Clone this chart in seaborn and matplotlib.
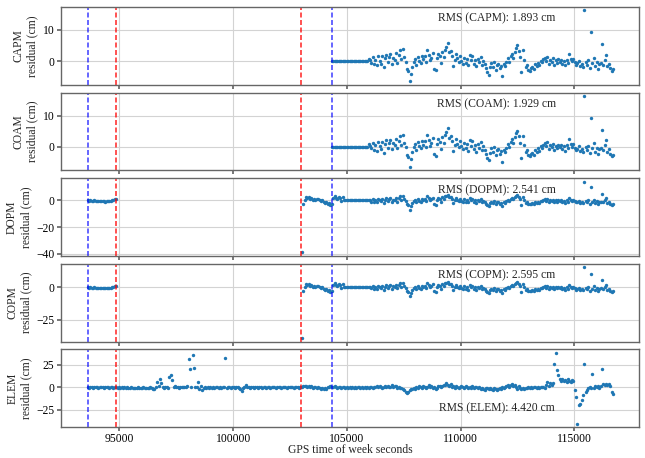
import numpy as np
import pandas as pd
import matplotlib
matplotlib.use('Agg')
import matplotlib.pyplot as plt
import seaborn as sns

# sampling interval of the residual series (s)
step = 60

# event markers (GPS seconds of week)
blue_lines = [93610, 104330]
red_lines = [94870, 103000]

stations = ['CAPM', 'COAM', 'DOPM', 'COPM', 'ELEM']
rms_values = [1.893, 1.929, 2.541, 2.595, 4.420]

# CAPM / COAM: one segment starting after the second blue line
capm_start = 104340
capm_res = [
    0.0, 0.0, 0.0, 0.0, 0.0, 0.0, 0.0, 0.0, 0.0, 0.0, 0.0, 0.0, 0.0, 0.0,
    0.0, 0.0, 0.0, 0.0, 0.0, 0.0, 0.0, 0.0, 0.0, 0.0, 0.0, 0.0, 0.0,
    0.8, 0.3, -0.6, 1.2, -1.0, 0.5, -1.3, 1.5, 0.2, -0.8,
    1.6, -1.9, 0.9, 2.0, -0.4, 1.3, 2.2, -0.9, 1.0, 0.4,
    2.5, -0.5, 1.9, 3.4, 0.6, 3.8, 1.2, -0.2, -2.6, -3.2,
    -6.4, -4.1, -1.8, -0.3, 0.8, -1.2, 1.4, 0.2, -0.6, 1.8,
    0.6, 1.7, -0.2, 3.6, 2.1, 0.3, 1.1, 2.6, -2.4, -2.9,
    0.9, 2.3, 1.5, -0.7, 2.9, 1.2, 3.7, 4.5, 5.9, 2.8,
    3.2, 1.8, -1.5, 0.4, 2.2, 0.9, -0.3, 1.6, 0.2, -0.8,
    1.1, -0.6, 0.7, -1.2, 1.9, 0.3, 1.7, -0.9, 0.5, -1.6,
    0.8, -0.4, 1.3, -1.1, 0.2, -0.9, -2.2, -3.6, -4.3, -1.9,
    -0.6, -1.8, -0.2, -2.7, -1.2, -0.8, -2.3, -1.5, -4.8, -1.0,
    -1.6, -0.4, 0.9, -0.2, 1.5, 2.4, 1.1, 3.0, 4.2, 5.0,
    3.3, 1.2, -3.5, 3.4, 0.4, -1.8, -1.1, -2.7, -3.1, -2.2,
    -1.9, -2.6, -1.0, -1.7, -0.6, -1.3, 0.1, -0.4, 0.6, 1.1,
    0.2, 1.4, -0.8, 0.5, -0.3, 0.9, -1.1, 0.3, -0.5, 0.6,
    -0.2, 0.5, -0.9, 0.1, -1.3, 0.4, -0.6, 2.4, 0.7, -0.1,
    0.8, -0.4, -1.2, -0.7, 0.2, -1.5, -0.9, -1.8, 16.2, -0.3,
    -1.1, 0.3, -2.1, 9.2, -0.6, 1.0, -1.7, -0.4, -2.4, -0.8,
    -0.5, 5.4, -1.2, 0.4, 2.1, -1.6, -0.9, -2.2, -3.0, -2.6,
]
coam_res = [
    0.0, 0.0, 0.0, 0.0, 0.0, 0.0, 0.0, 0.0, 0.0, 0.0, 0.0, 0.0, 0.0, 0.0,
    0.0, 0.0, 0.0, 0.0, 0.0, 0.0, 0.0, 0.0, 0.0, 0.0, 0.0, 0.0, 0.0,
    0.9, 0.3, -0.5, 1.2, -1.1, 0.5, -1.3, 1.6, 0.2, -0.8,
    1.6, -2.0, 0.9, 2.1, -0.4, 1.3, 2.2, -0.9, 1.1, 0.4,
    2.6, -0.5, 1.9, 3.5, 0.6, 3.9, 1.2, -0.2, -2.7, -3.3,
    -6.6, -4.2, -1.8, -0.3, 0.8, -1.2, 1.5, 0.2, -0.6, 1.8,
    0.6, 1.8, -0.2, 3.7, 2.1, 0.3, 1.1, 2.7, -2.5, -3.0,
    0.9, 2.4, 1.5, -0.7, 3.0, 1.2, 3.8, 4.6, 6.0, 2.9,
    3.3, 1.8, -1.6, 0.4, 2.3, 0.9, -0.3, 1.7, 0.2, -0.8,
    1.1, -0.6, 0.7, -1.3, 2.0, 0.3, 1.8, -0.9, 0.5, -1.7,
    0.8, -0.4, 1.4, -1.1, 0.2, -1.0, -2.3, -3.7, -4.4, -2.0,
    -0.6, -1.9, -0.2, -2.8, -1.2, -0.8, -2.4, -1.5, -4.9, -1.0,
    -1.7, -0.4, 0.9, -0.2, 1.6, 2.5, 1.1, 3.1, 4.3, 5.2,
    3.4, 1.2, -3.6, 3.5, 0.4, -1.9, -1.1, -2.8, -3.2, -2.3,
    -2.0, -2.7, -1.0, -1.8, -0.6, -1.3, 0.1, -0.4, 0.6, 1.2,
    0.2, 1.5, -0.8, 0.5, -0.3, 0.9, -1.2, 0.3, -0.5, 0.6,
    -0.2, 0.5, -0.9, 0.1, -1.4, 0.4, -0.6, 2.5, 0.7, -0.1,
    0.8, -0.4, -1.2, -0.7, 0.2, -1.6, -0.9, -1.9, 16.4, -0.3,
    -1.1, 0.3, -2.2, 9.3, -0.6, 1.0, -1.8, -0.4, -2.5, -0.8,
    -0.5, 5.5, -1.2, 0.4, 2.2, -1.7, -0.9, -2.3, -3.1, -2.7,
]

# DOPM / COPM: two segments
dopm_starts = [93600, 103020]
dopm_res_a = [
    0.2, -0.3, 0.1, -0.5, -0.2, 0.0, -0.6, -0.4, -0.1, -0.7, -0.3,
    -0.5, -0.2, -0.8, -0.4, -0.1, -0.6, -0.3, 0.2, 0.6, 1.3, 0.9,
]
dopm_res_b = [
    -39.0, -2.4, 0.3, 2.6, 1.8, 2.3, 1.1, 1.7, 0.5, 1.2, 0.2,
    0.9, 1.4, 0.4, -0.3, 0.6, -0.9, -1.6, -1.1, -2.4, -1.8, -3.2,
    -2.8, 1.9, 3.5, 2.2, 0.8, 2.9, 1.6, -0.4, 2.4, 0.7, 0.2,
    0.0, 0.0, 0.0, 0.0, 0.0, 0.0, 0.0, 0.0, 0.0, 0.0, 0.0, 0.0, 0.0, 0.0, 0.0, 0.0,
    0.5, 0.1, -0.8, 0.9, -1.2, 0.3, -1.0, 1.1, 0.0, -0.6,
    1.2, -1.6, 0.6, 1.7, -0.7, 1.0, 1.9, -1.1, 0.7, 0.2,
    2.1, -0.8, 1.5, 3.0, 0.3, 3.3, 0.8, -0.5, -2.9, -3.6,
    -6.8, -4.5, -2.1, -0.6, 0.5, -1.5, 1.1, -0.1, -0.9, 1.4,
    0.3, 1.4, -0.5, 3.1, 1.8, 0.0, 0.8, 2.2, -2.7, -3.1,
    0.6, 2.0, 1.1, -1.0, 2.5, 0.9, 3.2, 3.6, 4.1, 2.4,
    2.7, 1.4, -1.8, 0.1, 1.8, 0.5, -0.6, 1.2, -0.1, -1.1,
    0.8, -0.9, 0.4, -1.5, 1.5, 0.0, 1.3, -1.2, 0.2, -1.9,
    0.5, -0.7, 1.0, -1.4, -0.1, -1.2, -2.5, -3.4, -3.9, -2.2,
    -0.9, -2.1, -0.5, -3.0, -1.5, -1.1, -2.6, -1.8, -4.2, -1.3,
    -1.9, -0.7, 0.6, -0.5, 1.2, 2.0, 0.8, 2.6, 3.5, 4.0,
    2.8, 0.9, -3.2, 2.9, 0.1, -2.1, -1.4, -2.9, -3.0, -2.4,
    -2.2, -2.8, -1.3, -2.0, -0.9, -1.6, -0.2, -0.7, 0.3, 0.8,
    -0.1, 1.1, -1.1, 0.2, -0.6, 0.6, -1.4, 0.0, -0.8, 0.3,
    -0.5, 0.2, -1.2, -0.2, -1.6, 0.1, -0.9, 2.0, 0.4, -0.4,
    0.5, -0.7, -1.5, -1.0, -0.1, -1.8, -1.2, -2.1, 14.1, -0.6,
    -1.4, 0.0, -2.4, 9.8, -0.9, 0.7, -2.0, -0.7, -2.7, -1.1,
    -0.8, 4.8, -1.5, 0.1, 1.8, -1.9, -1.2, -2.5, -3.2, -2.8,
]
copm_res_a = [
    0.3, -0.3, 0.1, -0.4, -0.2, 0.1, -0.6, -0.3, -0.1, -0.6, -0.3,
    -0.5, -0.1, -0.7, -0.4, -0.1, -0.5, -0.3, 0.3, 0.7, 1.4, 1.0,
]
copm_res_b = [
    -39.3, -2.5, 0.3, 2.7, 1.8, 2.4, 1.1, 1.8, 0.5, 1.3, 0.2,
    0.9, 1.5, 0.4, -0.3, 0.6, -1.0, -1.7, -1.1, -2.5, -1.9, -3.3,
    -2.9, 2.0, 3.6, 2.2, 0.8, 3.0, 1.6, -0.4, 2.5, 0.7, 0.2,
    0.0, 0.0, 0.0, 0.0, 0.0, 0.0, 0.0, 0.0, 0.0, 0.0, 0.0, 0.0, 0.0, 0.0, 0.0, 0.0,
    0.6, 0.1, -0.8, 1.0, -1.2, 0.3, -1.1, 1.2, 0.0, -0.6,
    1.3, -1.7, 0.6, 1.8, -0.7, 1.1, 2.0, -1.1, 0.8, 0.2,
    2.2, -0.8, 1.6, 3.1, 0.3, 3.4, 0.9, -0.5, -3.0, -3.7,
    -7.0, -4.6, -2.1, -0.6, 0.6, -1.5, 1.2, -0.1, -0.9, 1.5,
    0.3, 1.5, -0.5, 3.2, 1.9, 0.0, 0.8, 2.3, -2.8, -3.2,
    0.6, 2.1, 1.2, -1.0, 2.6, 0.9, 3.3, 3.7, 4.3, 2.5,
    2.8, 1.5, -1.9, 0.1, 1.9, 0.5, -0.6, 1.3, -0.1, -1.1,
    0.9, -0.9, 0.4, -1.6, 1.6, 0.0, 1.4, -1.2, 0.2, -2.0,
    0.5, -0.7, 1.1, -1.4, -0.1, -1.3, -2.6, -3.5, -4.0, -2.3,
    -0.9, -2.2, -0.5, -3.1, -1.5, -1.1, -2.7, -1.9, -4.4, -1.3,
    -2.0, -0.7, 0.7, -0.5, 1.3, 2.1, 0.8, 2.7, 3.6, 4.2,
    2.9, 0.9, -3.3, 3.0, 0.1, -2.2, -1.4, -3.0, -3.1, -2.5,
    -2.3, -2.9, -1.3, -2.1, -0.9, -1.7, -0.2, -0.7, 0.3, 0.9,
    -0.1, 1.2, -1.1, 0.2, -0.6, 0.7, -1.5, 0.0, -0.8, 0.3,
    -0.5, 0.2, -1.3, -0.2, -1.7, 0.1, -0.9, 2.1, 0.4, -0.4,
    0.5, -0.7, -1.6, -1.0, -0.1, -1.9, -1.2, -2.2, 15.6, -0.6,
    -1.4, 0.0, -2.5, 10.5, -0.9, 0.8, -2.1, -0.7, -2.8, -1.1,
    -0.8, 5.8, -1.5, 0.1, 1.9, -2.0, -1.2, -2.6, -3.3, -2.9,
]

# ELEM: full span
elem_start = 93600
elem_res = [
    0.6, -0.2, 0.4, 0.9, -0.3, 0.5, 0.1, 0.7, -0.4, 0.3,
    0.8, 0.2, -0.5, 0.6, 0.3, 1.0, -0.1, 0.4, 0.7, -0.3,
    0.2, 0.5, -0.6, 0.1, -0.4, 0.3, -0.8, 0.0, -0.5, 0.2,
    -0.3, -0.9, 0.1, -0.6, -0.2, -1.0, -0.4, 0.2, -0.7, -0.3,
    -0.5, 0.1, -0.8, -0.2, -1.1, -0.4, 0.3, -0.6, -1.5, -2.0,
    0.4, 5.8, 1.2, 8.9, 4.4, 0.6, -0.3, 0.9, 0.2, -0.4,
    11.5, 13.6, 8.2, 0.7, 1.1, 0.3, 0.8, -0.2, 0.5, 1.0,
    0.4, 0.9, 0.2, 1.3, 31.5, 20.3, 0.6, 36.2, 21.1, 0.8,
    0.3, 6.0, -1.4, 2.1, -2.3, -0.9, 0.4, -0.3, 0.2, -0.6,
    0.1, -0.4, 0.5, -0.2, 0.3, 0.6, -0.1, 0.4, -0.3, 0.2,
    0.5, 32.8, -0.2, 0.3, 0.8, -0.1, 0.6, 0.2, -0.3, 0.4,
    0.1, -0.6, -1.2, -3.6, -1.0, 0.4, 2.4, 0.9, 0.3, -0.2,
    0.6, 0.1, -0.3, 0.4, 0.8, -0.2, 0.3, 0.5, -0.4, 0.2,
    0.4, -0.1, 0.6, 0.2, -0.5, 0.3, 0.7, 0.0, -0.3, 0.5,
    0.1, 0.6, -0.2, 0.4, 0.9, 0.2, -0.4, 0.5, 0.1, 0.7,
    0.3, -0.2, 0.6, 0.1, 0.8, -0.3, 0.4, 0.9, 1.6, 1.2,
    1.9, 0.8, 1.4, 0.5, 1.1, -0.2, 0.7, 0.3, -0.6, 0.4,
    -0.4, -1.2, -0.7, -1.8, -0.9, -1.5, 0.3, 0.9, 1.3, 0.6,
    0.2, 1.1, 0.5, -0.3, 0.8, 0.1, -0.4, 0.6, 0.0, -0.2,
    0.3, -0.5, 0.2, -0.1, 0.4, -0.3, 0.1, -0.6, 0.5, 0.2,
    -0.4, 0.1, -0.7, 0.3, -0.2, 0.6, -0.5, 0.9, 0.2, -0.3,
    0.7, 0.4, 1.2, 0.1, 1.5, 0.3, -0.6, 0.8, 1.3, 0.5,
    1.7, 0.2, 1.0, 2.4, 0.6, 1.4, 2.1, -0.3, 0.4, -1.0,
    -0.8, -1.6, -2.8, -4.9, -6.4, -5.2, -3.1, -2.0, -1.2, -0.3,
    -1.5, 0.4, -0.6, 1.1, 0.3, -0.9, 1.4, 0.6, -0.2, 1.0,
    2.6, 0.9, 1.5, -0.4, 0.8, -1.9, -0.6, 1.2, 2.0, 0.4,
    1.6, 3.2, 2.3, 5.4, 2.8, 1.1, 3.6, 0.7, 1.9, -0.2,
    1.3, 0.5, -0.8, 0.9, 1.6, 0.2, -0.5, 1.1, 0.4, -0.9,
    0.6, -0.4, 1.2, -1.0, 0.3, 0.9, -0.6, 0.5, -1.3, -0.2,
    -1.8, -2.9, -1.1, -0.4, -2.2, -0.8, -1.6, -2.6, -0.5, -1.9,
    -3.2, -1.4, -0.9, -2.1, 0.3, -0.6, 0.8, 1.4, 2.2, 1.0,
    2.8, 3.5, 1.6, 2.3, 0.9, -1.8, 1.2, -0.8, -1.5, -0.4,
    -1.2, -0.3, -0.8, 0.2, -0.5, 0.4, -0.2, 0.7, 0.1, -0.4,
    0.3, -0.2, 0.6, 0.1, 0.9, -0.3, 2.3, 6.1, 1.4, 4.8,
    2.6, 5.2, 25.8, 38.2, 19.6, 13.4, 8.9, 6.7, 9.3, 7.2,
    8.1, 6.4, 9.0, 7.5, 6.2, 8.4, 6.9, -3.0, -10.4, -40.3,
    -19.6, -18.8, -13.9, -8.2, 26.4, -4.6, -2.3, -0.8, 0.9, -0.3,
    14.8, -0.4, 1.2, 0.3, 2.1, -0.6, 1.7, 19.9, 3.8, 2.6,
    4.1, 2.9, 3.6, 1.8, -4.9, -7.6,
]

station_segments = {
    'CAPM': [(capm_start, capm_res)],
    'COAM': [(capm_start, coam_res)],
    'DOPM': [(dopm_starts[0], dopm_res_a), (dopm_starts[1], dopm_res_b)],
    'COPM': [(dopm_starts[0], copm_res_a), (dopm_starts[1], copm_res_b)],
    'ELEM': [(elem_start, elem_res)],
}
rms_y = [0.85, 0.85, 0.85, 0.85, 0.24]
yticks = [[0, 10], [0, 10], [-40, -20, 0], [-25, 0], [-25, 0, 25]]


def to_frame(segments):
    parts = []
    for start, vals in segments:
        t = start + step * np.arange(len(vals))
        parts.append(pd.DataFrame({'time': t, 'res': vals}))
    return pd.concat(parts, ignore_index=True)


sns.set_theme(style='whitegrid', rc={
    'axes.edgecolor': '#666666',
    'axes.linewidth': 1.0,
    'grid.color': '#d3d3d3',
    'grid.linewidth': 0.8,
    'xtick.bottom': True,
    'ytick.left': True,
    'xtick.color': '#666666',
    'ytick.color': '#666666',
    'xtick.labelcolor': 'black',
    'ytick.labelcolor': 'black',
    'xtick.major.size': 3,
    'ytick.major.size': 3,
    'xtick.major.pad': 0.8,
    'ytick.major.pad': 2,
})
plt.rcParams['font.family'] = ['Liberation Serif', 'DejaVu Serif']
fs = 8.4

fig, axes = plt.subplots(5, 1, figsize=(6.45, 4.58), dpi=100, sharex=True)
fig.subplots_adjust(left=0.095, right=0.991, top=0.985, bottom=0.067, hspace=0.1)

for i, (ax, name) in enumerate(zip(axes, stations)):
    df = to_frame(station_segments[name])
    sns.scatterplot(data=df, x='time', y='res', ax=ax, s=6, color='#1f77b4',
                    linewidth=0, legend=False)
    for xv in blue_lines:
        ax.axvline(xv, color='blue', alpha=0.7, linestyle=(0, (3, 1.5)), linewidth=1.2)
    for xv in red_lines:
        ax.axvline(xv, color='red', alpha=0.8, linestyle=(0, (3, 1.5)), linewidth=1.2)
    ax.set_yticks(yticks[i])
    ax.set_ylabel(f'{name}\nresidual (cm)', fontsize=fs, labelpad=3)
    ax.set_xlabel('')
    ax.tick_params(labelsize=fs)
    ax.text(0.753, rms_y[i], f'RMS ({name}): {rms_values[i]:.3f} cm',
            transform=ax.transAxes, ha='center', va='center', fontsize=fs)

axes[-1].set_xticks([95000, 100000, 105000, 110000, 115000])
axes[-1].set_xlabel('GPS time of week seconds', fontsize=fs, va='baseline')
axes[-1].xaxis.set_label_coords(0.5, -0.325)

plt.savefig('out.png', dpi=100)
